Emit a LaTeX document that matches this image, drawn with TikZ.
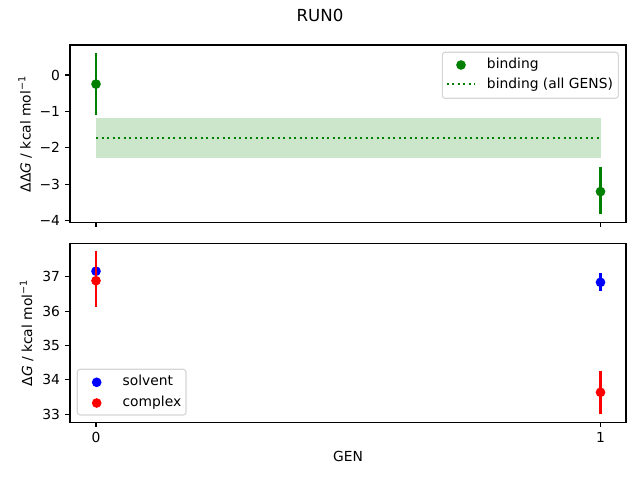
\documentclass[tikz,border=0pt]{standalone}
\usepackage{fontspec}
\setmainfont{DejaVu Sans}
\definecolor{mplgreen}{RGB}{0,128,0}
\definecolor{bandgreen}{RGB}{204,230,204}
\definecolor{legedge}{RGB}{214,214,214}
\begin{document}
\begin{tikzpicture}[x=0.01in,y=-0.01in,
  axisline/.style={line width=0.8pt, black},
  tickmark/.style={line width=0.8pt, black},
  errbar/.style={line width=1.5pt},
  markdot/.style={circle, inner sep=0pt, minimum size=7pt, draw=none},
  lab/.style={font=\fontsize{10}{12}\selectfont, inner sep=0pt, text=black},
  legbox/.style={draw=legedge, fill=white, fill opacity=0.8, draw opacity=1, line width=0.8pt, rounded corners=2pt},
  dottedline/.style={line width=1.5pt, mplgreen, dash pattern=on 1.5pt off 2.475pt}
]
\useasboundingbox (0,0) rectangle (640,480);
\fill[white] (0,0) rectangle (640,480);

% ---------- title ----------
\node[lab, font=\fontsize{12}{14}\selectfont, anchor=base] (title) at (320,22) {RUN0};

% ================= TOP AXES =================
\coordinate (tA) at (70,45);
\coordinate (tB) at (626,222.5);
% band
\fill[bandgreen] (96,118) rectangle (600.5,157.7);
\coordinate (dl0) at (96,137.7);
\coordinate (dl1) at (600.5,137.7);
\draw[dottedline] (dl0) -- (dl1);
% errorbars
\coordinate (te0a) at (96,53.1);
\coordinate (te0b) at (96,115.1);
\coordinate (te1a) at (600.5,166.8);
\coordinate (te1b) at (600.5,214.1);
\draw[errbar, mplgreen] (te0a) -- (te0b);
\draw[errbar, mplgreen] (te1a) -- (te1b);
\node[markdot, fill=mplgreen] (tp0) at (96,84.1) {};
\node[markdot, fill=mplgreen] (tp1) at (600.5,191.6) {};
% spines
\draw[axisline] (tA) rectangle (tB);
% y ticks
\foreach \v/\t [count=\i] in {0/0,-1/−1,-2/−2,-3/−3,-4/−4}{
  \pgfmathsetmacro{\yy}{75-36.425*\v}
  \draw[tickmark] (70,\yy) -- (65.14,\yy);
  \node[lab, anchor=east] (tyl\i) at (60.3,\yy) {\t};
}
% x ticks (no labels)
\draw[tickmark] (96,222.5) -- (96,227.4);
\draw[tickmark] (600.5,222.5) -- (600.5,227.4);
% y label
\node[lab, rotate=90, anchor=base] (tylab) at (30.5,134) {ΔΔ\textit{G} / kcal mol\textsuperscript{−1}};
% legend
\draw[legbox] (442.3,52.3) rectangle (618.3,98.3);
\node[markdot, fill=mplgreen] (lg1) at (461,65) {};
\node[lab, anchor=base west] (lgt1) at (486.7,68.8) {binding};
\coordinate (lh0) at (446.7,84.3);
\coordinate (lh1) at (474.3,84.3);
\draw[dottedline] (lh0) -- (lh1);
\node[lab, anchor=base west] (lgt2) at (486.7,88.3) {binding (all GENS)};

% ================= BOTTOM AXES =================
\coordinate (bA) at (70,243.3);
\coordinate (bB) at (626,422.3);
% solvent
\node[markdot, fill=blue] (bs0) at (96,271.2) {};
\coordinate (bse1a) at (600.5,273.3);
\coordinate (bse1b) at (600.5,291);
\draw[errbar, blue] (bse1a) -- (bse1b);
\node[markdot, fill=blue] (bs1) at (600.5,282.3) {};
% complex
\coordinate (bce0a) at (96,250.7);
\coordinate (bce0b) at (96,307.3);
\draw[errbar, red] (bce0a) -- (bce0b);
\node[markdot, fill=red] (bc0) at (96,280.7) {};
\coordinate (bce1a) at (600.5,371);
\coordinate (bce1b) at (600.5,413.7);
\draw[errbar, red] (bce1a) -- (bce1b);
\node[markdot, fill=red] (bc1) at (600.5,392.3) {};
% spines
\draw[axisline] (bA) rectangle (bB);
% y ticks
\foreach \v [count=\i] in {33,34,35,36,37}{
  \pgfmathsetmacro{\yy}{276.7-34.4*(\v-37)}
  \draw[tickmark] (70,\yy) -- (65.14,\yy);
  \node[lab, anchor=east] (byl\i) at (60.3,\yy) {\v};
}
% x ticks
\draw[tickmark] (96,422.3) -- (96,427.2);
\draw[tickmark] (600.5,422.3) -- (600.5,427.2);
\node[lab, anchor=north] (bxl0) at (96,432.3) {0};
\node[lab, anchor=north] (bxl1) at (600.5,432.3) {1};
% labels
\node[lab, anchor=base] (xlab) at (348,461.5) {GEN};
\node[lab, rotate=90, anchor=base] (bylab) at (32,333) {Δ\textit{G} / kcal mol\textsuperscript{−1}};
% legend
\draw[legbox] (77.3,369.3) rectangle (186,415);
\node[markdot, fill=blue] (lb1) at (96.7,382.3) {};
\node[lab, anchor=base west] (lbt1) at (122.3,386) {solvent};
\node[markdot, fill=red] (lb2) at (96.7,403) {};
\node[lab, anchor=base west] (lbt2) at (122.3,406.5) {complex};
\end{tikzpicture}
\end{document}
